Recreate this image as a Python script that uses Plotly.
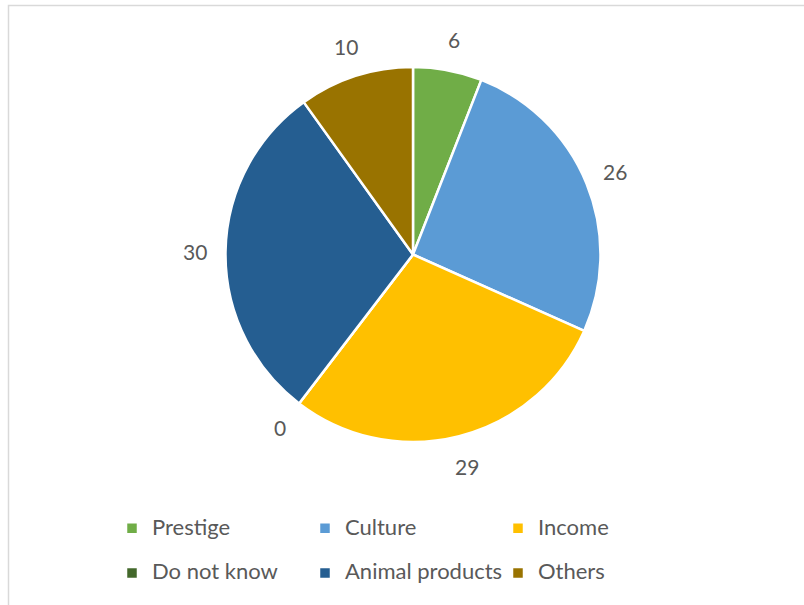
import math
import plotly.graph_objects as go

# Survey answers
categories = ["Prestige", "Culture", "Income", "Do not know", "Animal products", "Others"]
counts = [6, 26, 29, 0, 30, 10]
colors = ["#70AD47", "#5B9BD5", "#FFC000", "#43682B", "#255E91", "#997300"]

FIG_W, FIG_H = 804, 605
MARGIN_L, MARGIN_R, MARGIN_T, MARGIN_B = 100, 100, 0, 0
PLOT_W = FIG_W - MARGIN_L - MARGIN_R
PLOT_H = FIG_H - MARGIN_T - MARGIN_B

FONT = "Lato"
TEXT_COLOR = "#595959"
LABEL_SIZE = 21
LEGEND_SIZE = 22

# pie geometry in pixels
CX, CY, R = 413, 254.5, 187.5
LABEL_R = R * 1.165


def px_x(x):
    return (x - MARGIN_L) / PLOT_W


def px_y(y):
    return 1 - (y - MARGIN_T) / PLOT_H


legend_labels = [
    f"<span style='font-size:{LEGEND_SIZE}px;baseline-shift:6px'>{c}</span>" for c in categories
]

fig = go.Figure(
    go.Pie(
        labels=legend_labels,
        values=counts,
        sort=False,
        direction="clockwise",
        rotation=0,
        marker=dict(colors=colors, line=dict(color="white", width=2.5)),
        textinfo="none",
        hoverinfo="skip",
        showlegend=True,
        domain=dict(
            x=[px_x(CX - R), px_x(CX + R)],
            y=[px_y(CY + R), px_y(CY - R)],
        ),
    )
)

# value labels around the pie, at each slice's middle angle
total = sum(counts)
annotations = []
acc = 0
for v in counts:
    mid = (acc + v / 2) / total * 2 * math.pi
    acc += v
    lx = CX + LABEL_R * math.sin(mid)
    ly = CY - LABEL_R * math.cos(mid)
    annotations.append(
        dict(
            x=px_x(lx), y=px_y(ly), xref="paper", yref="paper",
            text=str(v), showarrow=False,
            font=dict(family=FONT, size=LABEL_SIZE, color=TEXT_COLOR),
            xanchor="center", yanchor="middle",
        )
    )

fig.update_layout(
    width=FIG_W,
    height=FIG_H,
    margin=dict(l=MARGIN_L, r=MARGIN_R, t=MARGIN_T, b=MARGIN_B),
    paper_bgcolor="white",
    plot_bgcolor="white",
    annotations=annotations,
    legend=dict(
        orientation="h",
        x=px_x(112), xanchor="left",
        y=px_y(501), yanchor="top",
        entrywidth=148, entrywidthmode="pixels",
        font=dict(family=FONT, size=32, color=TEXT_COLOR),
        traceorder="normal",
        itemclick=False, itemdoubleclick=False,
    ),
    shapes=[
        dict(
            type="rect", xref="paper", yref="paper",
            x0=px_x(8.5), x1=px_x(FIG_W + 20),
            y0=px_y(FIG_H + 20), y1=px_y(5.5),
            line=dict(color="#D9D9D9", width=1.5),
            fillcolor="rgba(0,0,0,0)", layer="below",
        )
    ],
)

fig.write_html("out.html")
